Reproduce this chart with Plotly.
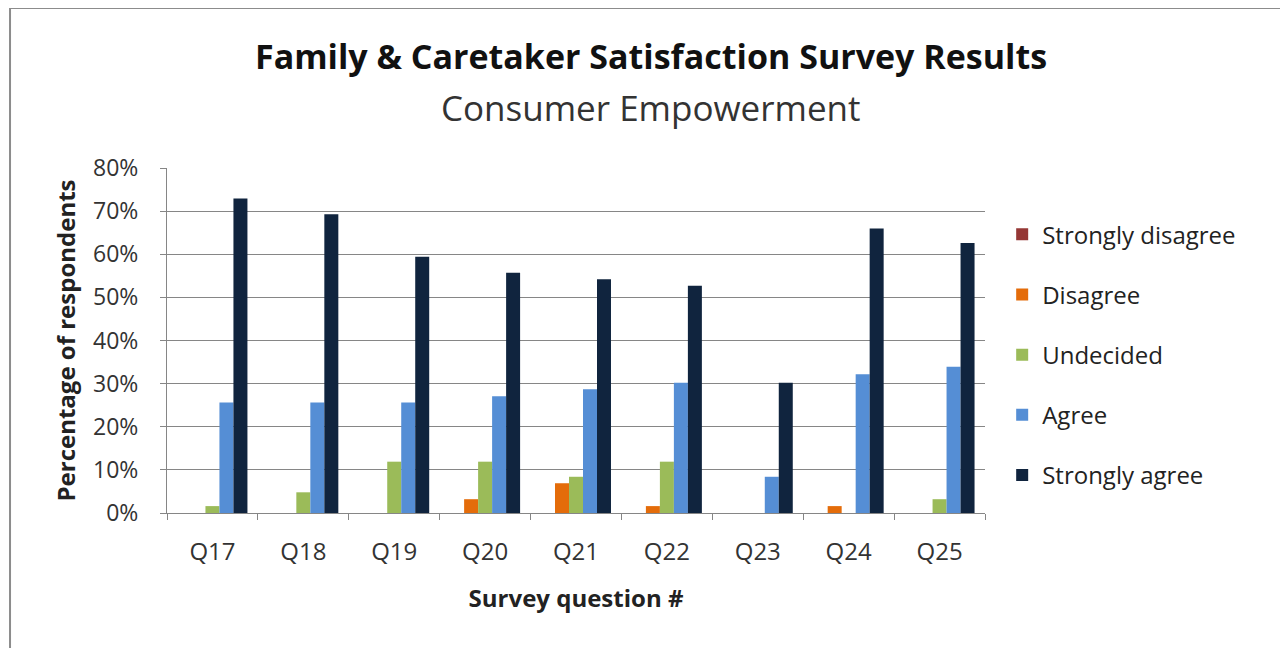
import plotly.graph_objects as go

# survey questions and answer shares (percent of respondents)
questions = ['Q17', 'Q18', 'Q19', 'Q20', 'Q21', 'Q22', 'Q23', 'Q24', 'Q25']
strongly_disagree = [0, 0, 0, 0, 0, 0, 0, 0, 0]
disagree = [0, 0, 0, 3.2, 6.9, 1.6, 0, 1.6, 0]
undecided = [1.6, 4.8, 11.9, 11.9, 8.4, 11.9, 0, 0, 3.2]
agree = [25.6, 25.6, 25.6, 27.1, 28.7, 30.2, 8.4, 32.2, 33.9]
strongly_agree = [72.9, 69.3, 59.4, 55.7, 54.2, 52.7, 30.2, 66.0, 62.6]

series = [
    ('Strongly disagree', strongly_disagree, '#953735'),
    ('Disagree', disagree, '#E46C0A'),
    ('Undecided', undecided, '#9BBB59'),
    ('Agree', agree, '#558ED5'),
    ('Strongly agree', strongly_agree, '#10243E'),
]

fig = go.Figure()
for name, vals, col in series:
    fig.add_trace(go.Bar(
        x=questions, y=[v / 100 for v in vals], name=name,
        marker_color=col, marker_line_width=0, legendgroup=name
    ))

font_main = 'Open Sans'

fig.update_layout(
    width=1280, height=640,
    margin=dict(l=159, r=303, t=160, b=135),
    paper_bgcolor='white', plot_bgcolor='white',
    barmode='group', bargap=0.23, bargroupgap=0,
    font=dict(family=font_main, size=22, color='#333333'),
    showlegend=True,
    legend=dict(
        x=1.021, y=0.872, xanchor='left', yanchor='top',
        traceorder='grouped', tracegroupgap=26,
        font=dict(size=24, color='#222222'),
        itemwidth=30,
    ),
    xaxis=dict(
        showline=True, linecolor='#868686', linewidth=1,
        ticks='outside', ticklen=6, tickcolor='#868686', tickson='boundaries',
        ticklabelstandoff=17,
        title=dict(text='<b>Survey question #</b>', font=dict(size=24, color='#222222'), standoff=24),
        tickfont=dict(size=24),
    ),
    yaxis=dict(
        range=[0, 0.8], dtick=0.1, tickformat='.0%',
        showline=True, linecolor='#868686', linewidth=1,
        ticks='outside', ticklen=6, tickcolor='#868686',
        ticklabelstandoff=17,
        showgrid=True, gridcolor='#868686', gridwidth=1,
        zeroline=False,
        title=dict(text='<b>Percentage of respondents</b>', font=dict(size=24, color='#222222'), standoff=10),
        tickfont=dict(size=23),
    ),
)

# titles
fig.add_annotation(
    text='<b>Family & Caretaker Satisfaction Survey Results</b>',
    xref='paper', yref='paper', x=0.592, y=1.325, xanchor='center', yanchor='middle',
    showarrow=False, font=dict(size=34, color='#111111', family=font_main)
)
fig.add_annotation(
    text='Consumer Empowerment',
    xref='paper', yref='paper', x=0.592, y=1.174, xanchor='center', yanchor='middle',
    showarrow=False, font=dict(size=35, color='#333333', family=font_main)
)

# chart border
fig.add_shape(
    type='rect', xref='paper', yref='paper',
    x0=-0.1919, x1=1.368, y0=-0.45, y1=1.464,
    line=dict(color='#8c8c8c', width=2), fillcolor='rgba(0,0,0,0)', layer='below'
)

fig.write_html('out.html')
